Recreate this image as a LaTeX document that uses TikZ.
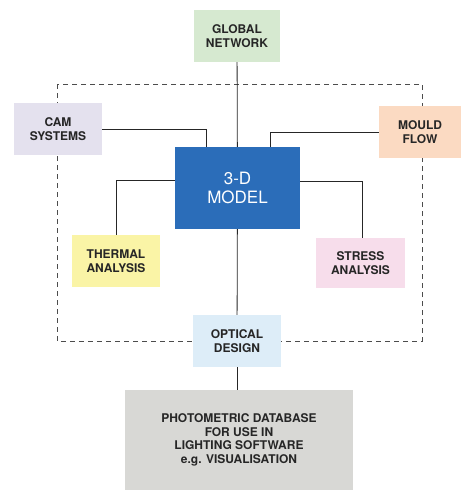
\documentclass[tikz,border=0pt]{standalone}
\usepackage{fontspec}
\setmainfont{TeX Gyre Heros}
\definecolor{netgreen}{HTML}{D6E9D0}
\definecolor{camlilac}{HTML}{E4E1EE}
\definecolor{mouldpeach}{HTML}{FBDAC2}
\definecolor{thermyellow}{HTML}{FAF4A6}
\definecolor{stresspink}{HTML}{F7DDEB}
\definecolor{opticblue}{HTML}{DDEDF8}
\definecolor{photogray}{HTML}{D8D8D5}
\definecolor{modelblue}{HTML}{2B6DB9}
\tikzset{
    box/.style={minimum width=88pt,minimum height=52pt,align=center,
                font=\fontsize{12}{13.5}\selectfont\bfseries,text=black!85},
    link/.style={black!85,line width=0.8pt}
}
\begin{document}
\begin{tikzpicture}[x=1pt,y=-1pt]
            \useasboundingbox (0,0) rectangle (461,491);
            \draw[gray!60!black,line width=0.9pt,dash pattern=on 5pt off 4pt]
                (57,84) rectangle (422,341);
            \node[box,fill=netgreen,minimum width=86pt] (net) at (237,36)
                {GLOBAL\\NETWORK};
            \node[box,fill=modelblue,text=white,minimum width=125pt,minimum height=82pt,
                  font=\fontsize{17}{19}\selectfont] (model) at (237.5,188) {3-D\\MODEL};
            \node[box,fill=camlilac] (cam) at (58,129) {CAM\\SYSTEMS};
            \node[box,fill=mouldpeach,minimum width=82pt] (mould) at (420,132) {MOULD\\FLOW};
            \node[box,fill=thermyellow] (therm) at (116,261) {THERMAL\\ANALYSIS};
            \node[box,fill=stresspink,minimum width=89pt,minimum height=50pt] (stress) at (360.5,263)
                {STRESS\\ANALYSIS};
            \node[box,fill=opticblue] (optic) at (237,341) {OPTICAL\\DESIGN};
            \node[box,fill=photogray,minimum width=228pt,minimum height=100pt] (photo) at (239,440)
                {PHOTOMETRIC DATABASE\\FOR USE IN\\LIGHTING SOFTWARE\\e.g. VISUALISATION};
            \draw[link] (net) -- (model);
            \draw[link] (model) -- (optic);
            \draw[link] (optic) -- (optic |- photo.north);
            \draw[link] (cam.east) -| ([xshift=32pt]model.north west);
            \draw[link] (mould.west) -| ([xshift=-30pt]model.north east);
            \draw[link] ([yshift=-34pt]model.north west) -| (therm.north);
            \draw[link] ([yshift=-35pt]model.north east) -| ([xshift=1.5pt]stress.north);
\end{tikzpicture}
\end{document}
